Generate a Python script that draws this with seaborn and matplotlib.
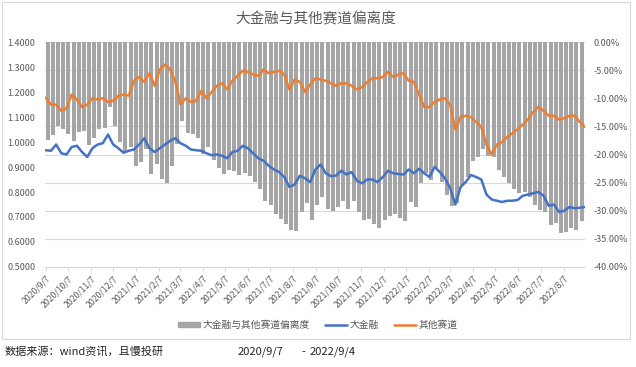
import pandas as pd
import seaborn as sns
import matplotlib.pyplot as plt
import matplotlib.dates as mdates
from matplotlib.patches import Patch, Rectangle
from matplotlib.lines import Line2D
from matplotlib.ticker import FuncFormatter, MultipleLocator

# weekly readings, one per week starting 2020/9/7 (Monday) up to 2022/8/29
dajinrong = [0.967, 0.965, 0.990, 0.955, 0.950, 0.980, 0.985, 0.960, 0.940, 0.975,
             0.990, 0.995, 1.030, 0.990, 0.975, 0.957, 0.965, 0.970, 0.990, 1.015,
             0.975, 0.960, 0.975, 0.990, 1.005, 1.015, 0.995, 0.985, 0.970, 0.967,
             0.965, 0.955, 0.947, 0.950, 0.945, 0.935, 0.960, 0.965, 0.985, 0.975,
             0.955, 0.935, 0.925, 0.905, 0.890, 0.880, 0.860, 0.820, 0.830, 0.865,
             0.855, 0.840, 0.890, 0.910, 0.875, 0.863, 0.866, 0.885, 0.870, 0.880,
             0.845, 0.835, 0.850, 0.850, 0.840, 0.860, 0.885, 0.875, 0.872, 0.870,
             0.890, 0.875, 0.893, 0.875, 0.860, 0.900, 0.880, 0.855, 0.815, 0.750,
             0.820, 0.840, 0.868, 0.860, 0.850, 0.790, 0.770, 0.765, 0.760, 0.765,
             0.765, 0.768, 0.785, 0.790, 0.795, 0.800, 0.785, 0.745, 0.750, 0.720,
             0.725, 0.740, 0.735, 0.737, 0.740]
qita = [1.177, 1.150, 1.150, 1.125, 1.135, 1.190, 1.170, 1.140, 1.150, 1.175,
        1.170, 1.175, 1.160, 1.165, 1.185, 1.190, 1.185, 1.245, 1.260, 1.240,
        1.275, 1.225, 1.290, 1.310, 1.290, 1.240, 1.150, 1.175, 1.160, 1.165,
        1.205, 1.175, 1.200, 1.225, 1.235, 1.210, 1.245, 1.265, 1.285, 1.280,
        1.270, 1.265, 1.290, 1.275, 1.280, 1.285, 1.270, 1.210, 1.250, 1.240,
        1.200, 1.230, 1.255, 1.250, 1.245, 1.235, 1.225, 1.235, 1.235, 1.225,
        1.210, 1.220, 1.240, 1.255, 1.255, 1.260, 1.280, 1.260, 1.270, 1.275,
        1.245, 1.240, 1.190, 1.140, 1.140, 1.160, 1.170, 1.175, 1.150, 1.050,
        1.100, 1.105, 1.100, 1.080, 1.060, 0.990, 0.950, 0.990, 1.000, 1.020,
        1.035, 1.050, 1.070, 1.090, 1.120, 1.140, 1.125, 1.105, 1.105, 1.090,
        1.095, 1.105, 1.105, 1.080, 1.060]
pianli = [-17.5, -16.5, -15.0, -15.5, -16.3, -17.6, -16.0, -15.8, -18.3, -17.0,
          -15.4, -15.3, -11.5, -15.0, -17.7, -19.6, -18.6, -22.0, -21.4, -19.0,
          -23.5, -21.6, -24.4, -25.0, -22.1, -18.1, -14.0, -16.2, -16.4, -17.0,
          -19.9, -18.7, -21.0, -22.4, -23.5, -22.7, -22.9, -23.7, -23.3, -23.8,
          -24.8, -26.1, -28.3, -29.0, -30.5, -31.5, -32.3, -33.5, -33.6, -30.2,
          -28.7, -31.7, -29.0, -27.5, -29.7, -30.1, -29.3, -28.3, -29.6, -28.2,
          -30.2, -31.6, -31.5, -32.3, -33.0, -31.7, -30.9, -30.6, -31.3, -31.8,
          -28.5, -29.4, -25.0, -23.2, -24.6, -22.4, -24.8, -27.2, -29.1, -28.6,
          -25.5, -24.0, -21.1, -20.4, -19.0, -20.2, -20.5, -22.7, -24.0, -25.0,
          -26.1, -26.9, -26.6, -27.5, -29.0, -29.8, -30.2, -32.6, -32.1, -33.9,
          -33.8, -33.0, -33.5, -31.8, -30.2]
tick_labels = ["2020/9/7", "2020/10/7", "2020/11/7", "2020/12/7", "2021/1/7", "2021/2/7",
               "2021/3/7", "2021/4/7", "2021/5/7", "2021/6/7", "2021/7/7", "2021/8/7",
               "2021/9/7", "2021/10/7", "2021/11/7", "2021/12/7", "2022/1/7", "2022/2/7",
               "2022/3/7", "2022/4/7", "2022/5/7", "2022/6/7", "2022/7/7", "2022/8/7"]

weeks = pd.date_range("2020-09-07", periods=len(dajinrong), freq="7D")
xw = mdates.date2num(weeks)
xticks = mdates.date2num(pd.to_datetime(tick_labels, format="%Y/%m/%d"))

sns.set_theme(style="white")
plt.rcParams['font.family'] = ['Noto Sans CJK SC', 'DejaVu Sans']
grey = "#595959"

fig = plt.figure(figsize=(6.36, 3.67), dpi=100)
ax = fig.add_axes([0.0708, 0.2725, 0.849, 0.613])
ax2 = ax.twinx()

# deviation bars on the right axis (one block per trading week)
ax2.bar(xw + 2.5, pianli, width=5.4, color="#a5a5a5", linewidth=0)
ax2.set_ylim(-40, 0)
ax2.yaxis.set_major_locator(MultipleLocator(5))
ax2.yaxis.set_major_formatter(FuncFormatter(lambda v, p: "%.2f%%" % v))
ax2.yaxis.grid(True, color="#d9d9d9", linewidth=0.8)
ax2.set_axisbelow(True)
ax2.tick_params(axis="y", length=0, labelsize=6.5, labelcolor=grey, pad=6)
for s in ax2.spines.values():
    s.set_visible(False)

sns.lineplot(x=xw, y=dajinrong, ax=ax, color="#4472C4", linewidth=1.8)
sns.lineplot(x=xw, y=qita, ax=ax, color="#ED7D31", linewidth=1.8)
ax.set_zorder(ax2.get_zorder() + 1)
ax.patch.set_visible(False)
ax.set_ylim(0.5, 1.4)
ax.yaxis.set_major_locator(MultipleLocator(0.1))
ax.yaxis.set_major_formatter(FuncFormatter(lambda v, p: "%.4f" % v))
ax.set_xlim(mdates.date2num(pd.Timestamp("2020-09-06")),
            mdates.date2num(pd.Timestamp("2022-09-05")))
ax.set_xticks(xticks)
ax.set_xticklabels(tick_labels, rotation=45, ha="right", rotation_mode="anchor")
ax.tick_params(axis="y", length=0, labelsize=6.5, labelcolor=grey, pad=7)
ax.tick_params(axis="x", length=3, width=0.8, color="#d9d9d9", direction="out",
               labelsize=6.3, labelcolor=grey, pad=2, bottom=True)
for k, s in ax.spines.items():
    s.set_visible(k == "bottom")
ax.spines["bottom"].set_color("#d9d9d9")
ax.spines["bottom"].set_linewidth(0.8)
ax.set_xlabel("")
ax.set_ylabel("")

fig.text(0.497, 0.948, "大金融与其他赛道偏离度", ha="center", va="center",
         fontsize=10.5, color=grey)

handles = [Patch(color="#a5a5a5"),
           Line2D([0], [0], color="#4472C4", linewidth=1.8),
           Line2D([0], [0], color="#ED7D31", linewidth=1.8)]
fig.legend(handles, ["大金融与其他赛道偏离度", "大金融", "其他赛道"],
           loc="center", bbox_to_anchor=(0.5, 0.114), ncol=3, frameon=False,
           fontsize=7, labelcolor=grey, handlelength=2.2, handleheight=0.35,
           columnspacing=1.6, handletextpad=0.3)

# chart border
fig.patches.append(Rectangle((0.003, 0.076), 0.987, 0.918, transform=fig.transFigure,
                             fill=False, edgecolor="#d9d9d9", linewidth=0.8))

fig.text(0.008, 0.041, "数据来源：wind资讯，且慢投研", ha="left", va="center",
         fontsize=8, color="#262626")
fig.text(0.374, 0.041, "2020/9/7", ha="left", va="center", fontsize=8, color="#262626")
fig.text(0.474, 0.041, "-", ha="left", va="center", fontsize=8, color="#262626")
fig.text(0.487, 0.041, "2022/9/4", ha="left", va="center", fontsize=8, color="#262626")

fig.savefig("out.png", dpi=100)
